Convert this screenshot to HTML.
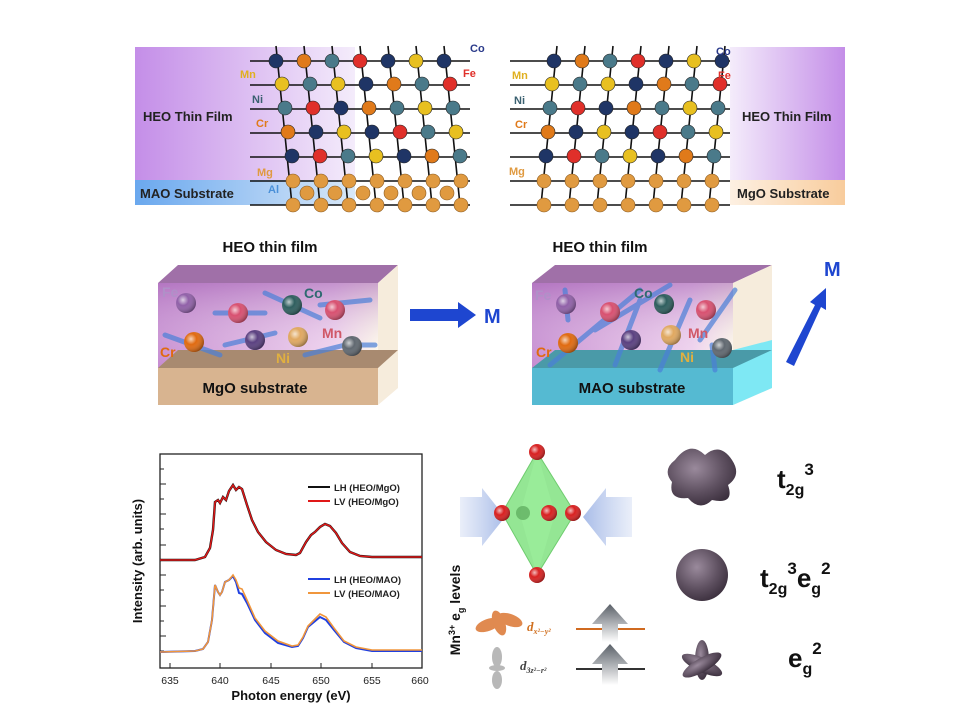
<!DOCTYPE html>
<html><head><meta charset="utf-8"><style>
html,body{margin:0;padding:0;background:#fff}
svg{display:block;font-family:"Liberation Sans",sans-serif}
</style></head><body>
<svg width="960" height="720" viewBox="0 0 960 720" xmlns="http://www.w3.org/2000/svg">
<defs>
<linearGradient id="pl" x1="0" x2="1"><stop offset="0" stop-color="#c48ee8"/><stop offset="1" stop-color="#f4ecfb"/></linearGradient>
<linearGradient id="pr" x1="1" x2="0"><stop offset="0" stop-color="#c48ee8"/><stop offset="1" stop-color="#f4ecfb"/></linearGradient>
<linearGradient id="bl" x1="0" x2="1"><stop offset="0" stop-color="#6aa8ee"/><stop offset="1" stop-color="#d8e8f8"/></linearGradient>
<linearGradient id="pk" x1="1" x2="0"><stop offset="0" stop-color="#f8cc9c"/><stop offset="1" stop-color="#fdf0e2"/></linearGradient>
<linearGradient id="film" x1="0" y1="0" x2="1" y2="0"><stop offset="0" stop-color="#c58ad0"/><stop offset="0.8" stop-color="#efd2ee"/><stop offset="1" stop-color="#fffbea"/></linearGradient>
<linearGradient id="filmv" x1="0" y1="0" x2="0" y2="1"><stop offset="0" stop-color="#a868b8" stop-opacity=".6"/><stop offset="1" stop-color="#fff" stop-opacity="0"/></linearGradient>
<radialGradient id="ball" cx=".35" cy=".35" r=".7"><stop offset="0" stop-color="#fff" stop-opacity=".7"/><stop offset=".4" stop-color="#fff" stop-opacity="0"/><stop offset="1" stop-color="#000" stop-opacity=".35"/></radialGradient>
<radialGradient id="orb" cx=".4" cy=".35" r=".7"><stop offset="0" stop-color="#9a8a9c"/><stop offset=".6" stop-color="#5e5060"/><stop offset="1" stop-color="#3a2e3c"/></radialGradient>
<linearGradient id="barr" x1="0" x2="1"><stop offset="0" stop-color="#b8c8ec" stop-opacity=".3"/><stop offset="1" stop-color="#a8bce8"/></linearGradient>
<linearGradient id="barl" x1="1" x2="0"><stop offset="0" stop-color="#b8c8ec" stop-opacity=".3"/><stop offset="1" stop-color="#a8bce8"/></linearGradient>
<linearGradient id="gup" x1="0" y1="1" x2="0" y2="0"><stop offset="0" stop-color="#fff"/><stop offset="1" stop-color="#5a6068"/></linearGradient>
</defs>

<!-- TOP LEFT -->
<rect x="135" y="47" width="220" height="135" fill="url(#pl)"/>
<rect x="135" y="180" width="220" height="25" fill="url(#bl)"/>
<text x="143" y="121" font-size="13" font-weight="bold" fill="#222">HEO Thin Film</text>
<text x="140" y="198" font-size="13" font-weight="bold" fill="#222">MAO Substrate</text>
<g stroke="#111" stroke-width="1.6">
<line x1="250" y1="61" x2="470" y2="61"/><line x1="250" y1="85" x2="470" y2="85"/><line x1="250" y1="109" x2="470" y2="109"/><line x1="250" y1="133" x2="470" y2="133"/><line x1="250" y1="157" x2="470" y2="157"/><line x1="250" y1="181" x2="470" y2="181"/><line x1="250" y1="205" x2="470" y2="205"/>
<line x1="276" y1="46" x2="292" y2="205"/><line x1="304" y1="46" x2="320" y2="205"/><line x1="332" y1="46" x2="348" y2="205"/><line x1="360" y1="46" x2="376" y2="205"/><line x1="388" y1="46" x2="404" y2="205"/><line x1="416" y1="46" x2="432" y2="205"/><line x1="444" y1="46" x2="460" y2="205"/>
</g>
<g stroke="#222" stroke-width=".6">
<circle cx="276" cy="61" r="7" fill="#1f3566"/><circle cx="304" cy="61" r="7" fill="#e07a1a"/><circle cx="332" cy="61" r="7" fill="#4a7a8a"/><circle cx="360" cy="61" r="7" fill="#e0302a"/><circle cx="388" cy="61" r="7" fill="#1f3566"/><circle cx="416" cy="61" r="7" fill="#e8c020"/><circle cx="444" cy="61" r="7" fill="#1f3566"/>
<circle cx="282" cy="84" r="7" fill="#e8c020"/><circle cx="310" cy="84" r="7" fill="#4a7a8a"/><circle cx="338" cy="84" r="7" fill="#e8c020"/><circle cx="366" cy="84" r="7" fill="#1f3566"/><circle cx="394" cy="84" r="7" fill="#e07a1a"/><circle cx="422" cy="84" r="7" fill="#4a7a8a"/><circle cx="450" cy="84" r="7" fill="#e0302a"/>
<circle cx="285" cy="108" r="7" fill="#4a7a8a"/><circle cx="313" cy="108" r="7" fill="#e0302a"/><circle cx="341" cy="108" r="7" fill="#1f3566"/><circle cx="369" cy="108" r="7" fill="#e07a1a"/><circle cx="397" cy="108" r="7" fill="#4a7a8a"/><circle cx="425" cy="108" r="7" fill="#e8c020"/><circle cx="453" cy="108" r="7" fill="#4a7a8a"/>
<circle cx="288" cy="132" r="7" fill="#e07a1a"/><circle cx="316" cy="132" r="7" fill="#1f3566"/><circle cx="344" cy="132" r="7" fill="#e8c020"/><circle cx="372" cy="132" r="7" fill="#1f3566"/><circle cx="400" cy="132" r="7" fill="#e0302a"/><circle cx="428" cy="132" r="7" fill="#4a7a8a"/><circle cx="456" cy="132" r="7" fill="#e8c020"/>
<circle cx="292" cy="156" r="7" fill="#1f3566"/><circle cx="320" cy="156" r="7" fill="#e0302a"/><circle cx="348" cy="156" r="7" fill="#4a7a8a"/><circle cx="376" cy="156" r="7" fill="#e8c020"/><circle cx="404" cy="156" r="7" fill="#1f3566"/><circle cx="432" cy="156" r="7" fill="#e07a1a"/><circle cx="460" cy="156" r="7" fill="#4a7a8a"/>
</g>
<g fill="#e09a40" stroke="#8a5a20" stroke-width=".6">
<circle cx="293" cy="181" r="7"/><circle cx="321" cy="181" r="7"/><circle cx="349" cy="181" r="7"/><circle cx="377" cy="181" r="7"/><circle cx="405" cy="181" r="7"/><circle cx="433" cy="181" r="7"/><circle cx="461" cy="181" r="7"/>
<circle cx="307" cy="193" r="7"/><circle cx="335" cy="193" r="7"/><circle cx="363" cy="193" r="7"/><circle cx="391" cy="193" r="7"/><circle cx="419" cy="193" r="7"/><circle cx="447" cy="193" r="7"/>
<circle cx="293" cy="205" r="7"/><circle cx="321" cy="205" r="7"/><circle cx="349" cy="205" r="7"/><circle cx="377" cy="205" r="7"/><circle cx="405" cy="205" r="7"/><circle cx="433" cy="205" r="7"/><circle cx="461" cy="205" r="7"/>
</g>
<g font-size="11" font-weight="bold">
<text x="470" y="52" fill="#2a3a8a">Co</text><text x="463" y="77" fill="#e0302a">Fe</text>
<text x="240" y="78" fill="#e0b020">Mn</text><text x="252" y="103" fill="#3a6070">Ni</text><text x="256" y="127" fill="#e07a1a">Cr</text>
<text x="257" y="176" fill="#e09a40">Mg</text><text x="268" y="193" fill="#4a90d8">Al</text>
</g>

<!-- TOP RIGHT -->
<rect x="730" y="47" width="115" height="135" fill="url(#pr)"/>
<rect x="730" y="180" width="115" height="25" fill="url(#pk)"/>
<text x="742" y="121" font-size="13" font-weight="bold" fill="#222">HEO Thin Film</text>
<text x="737" y="198" font-size="13" font-weight="bold" fill="#222">MgO Substrate</text>
<g stroke="#111" stroke-width="1.6">
<line x1="510" y1="61" x2="730" y2="61"/><line x1="510" y1="85" x2="730" y2="85"/><line x1="510" y1="109" x2="730" y2="109"/><line x1="510" y1="133" x2="730" y2="133"/><line x1="510" y1="157" x2="730" y2="157"/><line x1="510" y1="181" x2="730" y2="181"/><line x1="510" y1="205" x2="730" y2="205"/>
<line x1="557" y1="46" x2="541" y2="205"/><line x1="585" y1="46" x2="569" y2="205"/><line x1="613" y1="46" x2="597" y2="205"/><line x1="641" y1="46" x2="625" y2="205"/><line x1="669" y1="46" x2="653" y2="205"/><line x1="697" y1="46" x2="681" y2="205"/><line x1="725" y1="46" x2="709" y2="205"/>
</g>
<g stroke="#222" stroke-width=".6">
<circle cx="554" cy="61" r="7" fill="#1f3566"/><circle cx="582" cy="61" r="7" fill="#e07a1a"/><circle cx="610" cy="61" r="7" fill="#4a7a8a"/><circle cx="638" cy="61" r="7" fill="#e0302a"/><circle cx="666" cy="61" r="7" fill="#1f3566"/><circle cx="694" cy="61" r="7" fill="#e8c020"/><circle cx="722" cy="61" r="7" fill="#1f3566"/>
<circle cx="552" cy="84" r="7" fill="#e8c020"/><circle cx="580" cy="84" r="7" fill="#4a7a8a"/><circle cx="608" cy="84" r="7" fill="#e8c020"/><circle cx="636" cy="84" r="7" fill="#1f3566"/><circle cx="664" cy="84" r="7" fill="#e07a1a"/><circle cx="692" cy="84" r="7" fill="#4a7a8a"/><circle cx="720" cy="84" r="7" fill="#e0302a"/>
<circle cx="550" cy="108" r="7" fill="#4a7a8a"/><circle cx="578" cy="108" r="7" fill="#e0302a"/><circle cx="606" cy="108" r="7" fill="#1f3566"/><circle cx="634" cy="108" r="7" fill="#e07a1a"/><circle cx="662" cy="108" r="7" fill="#4a7a8a"/><circle cx="690" cy="108" r="7" fill="#e8c020"/><circle cx="718" cy="108" r="7" fill="#4a7a8a"/>
<circle cx="548" cy="132" r="7" fill="#e07a1a"/><circle cx="576" cy="132" r="7" fill="#1f3566"/><circle cx="604" cy="132" r="7" fill="#e8c020"/><circle cx="632" cy="132" r="7" fill="#1f3566"/><circle cx="660" cy="132" r="7" fill="#e0302a"/><circle cx="688" cy="132" r="7" fill="#4a7a8a"/><circle cx="716" cy="132" r="7" fill="#e8c020"/>
<circle cx="546" cy="156" r="7" fill="#1f3566"/><circle cx="574" cy="156" r="7" fill="#e0302a"/><circle cx="602" cy="156" r="7" fill="#4a7a8a"/><circle cx="630" cy="156" r="7" fill="#e8c020"/><circle cx="658" cy="156" r="7" fill="#1f3566"/><circle cx="686" cy="156" r="7" fill="#e07a1a"/><circle cx="714" cy="156" r="7" fill="#4a7a8a"/>
</g>
<g fill="#e09a40" stroke="#8a5a20" stroke-width=".6">
<circle cx="544" cy="181" r="7"/><circle cx="572" cy="181" r="7"/><circle cx="600" cy="181" r="7"/><circle cx="628" cy="181" r="7"/><circle cx="656" cy="181" r="7"/><circle cx="684" cy="181" r="7"/><circle cx="712" cy="181" r="7"/>
<circle cx="544" cy="205" r="7"/><circle cx="572" cy="205" r="7"/><circle cx="600" cy="205" r="7"/><circle cx="628" cy="205" r="7"/><circle cx="656" cy="205" r="7"/><circle cx="684" cy="205" r="7"/><circle cx="712" cy="205" r="7"/>
</g>
<g font-size="11" font-weight="bold">
<text x="716" y="55" fill="#2a3a8a">Co</text><text x="718" y="79" fill="#e0302a">Fe</text>
<text x="512" y="79" fill="#e0b020">Mn</text><text x="514" y="104" fill="#3a6070">Ni</text><text x="515" y="128" fill="#e07a1a">Cr</text>
<text x="509" y="175" fill="#e09a40">Mg</text>
</g>

<!-- MIDDLE LEFT BOX -->
<text x="270" y="252" font-size="15" font-weight="bold" text-anchor="middle" fill="#111">HEO thin film</text>
<polygon points="158,283 178,265 398,265 378,283" fill="#a070a8"/>
<polygon points="378,283 398,265 398,388 378,405" fill="#f6ecdc"/>
<rect x="158" y="283" width="220" height="85" fill="url(#film)"/>
<rect x="158" y="283" width="220" height="85" fill="url(#filmv)"/>
<polygon points="158,368 178,350 398,350 378,368" fill="#a88a70"/>
<rect x="158" y="368" width="220" height="37" fill="#d8b490"/>
<text x="255" y="393" font-size="15" font-weight="bold" text-anchor="middle" fill="#111">MgO substrate</text>
<g stroke="#4a80d8" stroke-width="5" opacity=".7" stroke-linecap="round">
<line x1="165" y1="335" x2="220" y2="355"/><line x1="215" y1="313" x2="265" y2="313"/><line x1="265" y1="293" x2="320" y2="318"/><line x1="225" y1="345" x2="275" y2="333"/><line x1="305" y1="355" x2="345" y2="345"/><line x1="345" y1="345" x2="375" y2="345"/><line x1="320" y1="305" x2="370" y2="300"/>
</g>
<g>
<circle cx="186" cy="303" r="10" fill="#9060a8"/><circle cx="238" cy="313" r="10" fill="#d85070"/><circle cx="292" cy="305" r="10" fill="#2e5e5e"/><circle cx="335" cy="310" r="10" fill="#d85070"/>
<circle cx="194" cy="342" r="10" fill="#e06a10"/><circle cx="255" cy="340" r="10" fill="#5a4080"/><circle cx="298" cy="337" r="10" fill="#e0a860"/><circle cx="352" cy="346" r="10" fill="#606870"/>
<circle cx="186" cy="303" r="10" fill="url(#ball)"/><circle cx="238" cy="313" r="10" fill="url(#ball)"/><circle cx="292" cy="305" r="10" fill="url(#ball)"/><circle cx="335" cy="310" r="10" fill="url(#ball)"/><circle cx="194" cy="342" r="10" fill="url(#ball)"/><circle cx="255" cy="340" r="10" fill="url(#ball)"/><circle cx="298" cy="337" r="10" fill="url(#ball)"/><circle cx="352" cy="346" r="10" fill="url(#ball)"/>
</g>
<g font-size="14" font-weight="bold">
<text x="162" y="297" fill="#b090c8">Fe</text><text x="304" y="298" fill="#2e6a70">Co</text><text x="322" y="338" fill="#d05868">Mn</text><text x="160" y="357" fill="#e06a10">Cr</text><text x="276" y="363" fill="#e0b040">Ni</text>
</g>
<polygon points="410,309 458,309 458,302 476,315 458,328 458,321 410,321" fill="#1e46d0"/>
<text x="484" y="323" font-size="20" font-weight="bold" fill="#1e46d0">M</text>

<!-- MIDDLE RIGHT BOX -->
<text x="600" y="252" font-size="15" font-weight="bold" text-anchor="middle" fill="#111">HEO thin film</text>
<polygon points="532,283 555,265 772,265 733,283" fill="#a070a8"/>
<polygon points="733,283 772,265 772,388 733,405" fill="#f6ecdc"/>
<polygon points="733,350 772,340 772,388 733,405" fill="#7ee8f4"/>
<rect x="532" y="283" width="201" height="85" fill="url(#film)"/>
<rect x="532" y="283" width="201" height="85" fill="url(#filmv)"/>
<polygon points="532,368 555,350 772,350 733,368" fill="#4a9aa8"/>
<rect x="532" y="368" width="201" height="37" fill="#55bad2"/>
<text x="632" y="393" font-size="15" font-weight="bold" text-anchor="middle" fill="#111">MAO substrate</text>
<g stroke="#4a80d8" stroke-width="5" opacity=".7" stroke-linecap="round">
<line x1="550" y1="365" x2="640" y2="290"/><line x1="595" y1="330" x2="670" y2="285"/><line x1="565" y1="290" x2="568" y2="320"/><line x1="615" y1="365" x2="640" y2="300"/><line x1="660" y1="370" x2="690" y2="300"/><line x1="715" y1="370" x2="712" y2="345"/><line x1="700" y1="340" x2="735" y2="290"/>
</g>
<g>
<circle cx="566" cy="304" r="10" fill="#9060a8"/><circle cx="610" cy="312" r="10" fill="#d85070"/><circle cx="664" cy="304" r="10" fill="#2e5e5e"/><circle cx="706" cy="310" r="10" fill="#d85070"/>
<circle cx="568" cy="343" r="10" fill="#e06a10"/><circle cx="631" cy="340" r="10" fill="#5a4080"/><circle cx="671" cy="335" r="10" fill="#e0a860"/><circle cx="722" cy="348" r="10" fill="#606870"/>
<circle cx="566" cy="304" r="10" fill="url(#ball)"/><circle cx="610" cy="312" r="10" fill="url(#ball)"/><circle cx="664" cy="304" r="10" fill="url(#ball)"/><circle cx="706" cy="310" r="10" fill="url(#ball)"/><circle cx="568" cy="343" r="10" fill="url(#ball)"/><circle cx="631" cy="340" r="10" fill="url(#ball)"/><circle cx="671" cy="335" r="10" fill="url(#ball)"/><circle cx="722" cy="348" r="10" fill="url(#ball)"/>
</g>
<g font-size="14" font-weight="bold">
<text x="535" y="300" fill="#b090c8">Fe</text><text x="634" y="298" fill="#2e6a70">Co</text><text x="688" y="338" fill="#d05868">Mn</text><text x="536" y="357" fill="#e06a10">Cr</text><text x="680" y="362" fill="#e0b040">Ni</text>
</g>
<polygon points="786,362 815,305 810,302 826,288 826,310 821,307 794,366" fill="#1e46d0"/>
<text x="824" y="276" font-size="20" font-weight="bold" fill="#1e46d0">M</text>

<!-- PLOT -->
<rect x="160" y="454" width="262" height="214" fill="none" stroke="#222" stroke-width="1.3"/>
<g stroke="#222" stroke-width="1">
<line x1="160" y1="469" x2="164" y2="469"/><line x1="160" y1="484" x2="166" y2="484"/><line x1="160" y1="499" x2="164" y2="499"/><line x1="160" y1="514" x2="166" y2="514"/><line x1="160" y1="529" x2="164" y2="529"/><line x1="160" y1="545" x2="166" y2="545"/><line x1="160" y1="560" x2="164" y2="560"/><line x1="160" y1="575" x2="166" y2="575"/><line x1="160" y1="590" x2="164" y2="590"/><line x1="160" y1="606" x2="166" y2="606"/><line x1="160" y1="621" x2="164" y2="621"/><line x1="160" y1="636" x2="166" y2="636"/><line x1="160" y1="651" x2="164" y2="651"/>
<line x1="170" y1="668" x2="170" y2="663"/><line x1="220" y1="668" x2="220" y2="663"/><line x1="271" y1="668" x2="271" y2="663"/><line x1="321" y1="668" x2="321" y2="663"/><line x1="372" y1="668" x2="372" y2="663"/><line x1="422" y1="668" x2="422" y2="663"/>
</g>
<g font-size="10.5" fill="#222" text-anchor="middle">
<text x="170" y="684">635</text><text x="220" y="684">640</text><text x="271" y="684">645</text><text x="321" y="684">650</text><text x="372" y="684">655</text><text x="420" y="684">660</text>
</g>
<text x="291" y="700" font-size="13" font-weight="bold" text-anchor="middle" fill="#111">Photon energy (eV)</text>
<text transform="translate(142,561) rotate(-90)" font-size="13" font-weight="bold" text-anchor="middle" fill="#111">Intensity (arb. units)</text>
<path d="M160,560 L195,560 L205,557 L210,548 L213,530 L215,502 L218,500 L220,503 L223,497 L226,500 L229,491 L233,485 L236,490 L239,487 L242,489 L247,505 L252,520 L258,532 L266,542 L276,550 L286,554 L296,555 L300,553 L306,542 L311,535 L315,532 L320,527 L325,524 L330,526 L336,533 L342,543 L350,552 L360,556 L372,557 L422,557" fill="none" stroke="#111" stroke-width="2.4"/>
<path d="M160,560 L195,560 L205,557 L210,548 L213,530 L215,502 L218,500 L220,503 L223,497 L226,500 L229,491 L233,485 L236,490 L239,487 L242,489 L247,505 L252,520 L258,532 L266,542 L276,550 L286,554 L296,555 L300,553 L306,542 L311,535 L315,532 L320,527 L325,524 L330,526 L336,533 L342,543 L350,552 L360,556 L372,557 L422,557" fill="none" stroke="#e01818" stroke-width="1.5"/>
<path d="M160,652 L195,651 L203,649 L208,642 L212,620 L215,585 L218,592 L220,595 L222,592 L225,582 L229,580 L233,576 L236,582 L239,593 L242,594 L247,603 L255,620 L265,633 L278,643 L292,647 L298,646 L303,638 L308,627 L314,622 L320,617 L326,620 L334,630 L344,642 L356,648 L372,651 L422,651" fill="none" stroke="#2040e0" stroke-width="2"/>
<path d="M160,652 L195,651 L203,649 L208,642 L212,620 L215,585 L218,592 L220,595 L222,592 L225,582 L229,580 L233,575 L236,580 L239,588 L242,589 L247,600 L255,618 L265,631 L278,641 L292,646 L298,645 L303,637 L308,626 L314,620 L320,614 L326,617 L334,628 L344,641 L356,647 L372,650 L422,650" fill="none" stroke="#f0963c" stroke-width="1.6"/>
<g font-size="9.5" font-weight="bold" fill="#222">
<line x1="308" y1="487" x2="330" y2="487" stroke="#111" stroke-width="2"/><text x="334" y="491">LH (HEO/MgO)</text>
<line x1="308" y1="501" x2="330" y2="501" stroke="#e01818" stroke-width="2"/><text x="334" y="505">LV (HEO/MgO)</text>
<line x1="308" y1="579" x2="330" y2="579" stroke="#2040e0" stroke-width="2"/><text x="334" y="583">LH (HEO/MAO)</text>
<line x1="308" y1="593" x2="330" y2="593" stroke="#f0963c" stroke-width="2"/><text x="334" y="597">LV (HEO/MAO)</text>
</g>

<!-- OCTAHEDRON -->
<polygon points="460,497 482,497 482,488 505,517 482,546 482,537 460,537" fill="url(#barr)"/>
<polygon points="632,497 606,497 606,488 583,517 606,546 606,537 632,537" fill="url(#barl)"/>
<polygon points="537,452 502,513 537,575 575,513" fill="#7ae07a" opacity=".8" stroke="#4cc04c"/>
<polygon points="537,452 520,514 537,575 555,514" fill="#9cf09c" opacity=".6"/>
<g fill="#d82020"><circle cx="537" cy="452" r="8"/><circle cx="502" cy="513" r="8"/><circle cx="549" cy="513" r="8"/><circle cx="573" cy="513" r="8"/><circle cx="537" cy="575" r="8"/></g>
<circle cx="523" cy="513" r="7" fill="#5aa85a" opacity=".7"/>
<g fill="url(#ball)"><circle cx="537" cy="452" r="8"/><circle cx="502" cy="513" r="8"/><circle cx="549" cy="513" r="8"/><circle cx="573" cy="513" r="8"/><circle cx="537" cy="575" r="8"/></g>

<!-- levels -->
<text transform="translate(460,610) rotate(-90)" font-size="14" font-weight="bold" text-anchor="middle" fill="#111">Mn<tspan dy="-5" font-size="9">3+</tspan><tspan dy="5"> e</tspan><tspan dy="4" font-size="9">g</tspan><tspan dy="-4"> levels</tspan></text>
<g fill="#e08a50"><ellipse cx="488" cy="625" rx="13" ry="6" transform="rotate(-20 488 625)"/><ellipse cx="510" cy="620" rx="13" ry="6" transform="rotate(20 510 620)"/><ellipse cx="499" cy="623" rx="6" ry="13" transform="rotate(-20 499 623)"/></g>
<g fill="#b8b8b8"><ellipse cx="497" cy="657" rx="5" ry="10"/><ellipse cx="497" cy="680" rx="5" ry="9"/><ellipse cx="497" cy="668" rx="8" ry="3"/></g>
<text x="527" y="631" font-size="13" font-style="italic" font-weight="bold" font-family="Liberation Serif,serif" fill="#d07020">d<tspan font-size="8" dy="3">x²−y²</tspan></text>
<text x="520" y="670" font-size="13" font-style="italic" font-weight="bold" font-family="Liberation Serif,serif" fill="#444">d<tspan font-size="8" dy="3">3z²−r²</tspan></text>
<line x1="576" y1="629" x2="645" y2="629" stroke="#d06a20" stroke-width="2"/>
<line x1="576" y1="669" x2="645" y2="669" stroke="#333" stroke-width="2"/>
<polygon points="610,604 592,624 602,624 602,642 618,642 618,624 628,624" fill="url(#gup)"/>
<polygon points="610,644 592,664 602,664 602,685 618,685 618,664 628,664" fill="url(#gup)"/>

<!-- orbitals -->
<path d="M675,460 Q690,440 705,455 Q720,442 732,460 Q742,475 728,485 Q735,505 712,500 Q700,512 688,498 Q668,500 672,482 Q662,470 675,460Z" fill="url(#orb)"/>
<circle cx="702" cy="575" r="26" fill="url(#orb)"/>
<g fill="url(#orb)">
<ellipse cx="702" cy="660" rx="7" ry="20"/><ellipse cx="702" cy="665" rx="22" ry="7" transform="rotate(25 702 665)"/><ellipse cx="702" cy="665" rx="22" ry="7" transform="rotate(-30 702 665)"/>
</g>
<g font-weight="bold" fill="#111" font-size="26">
<text x="777" y="488">t<tspan font-size="16" dy="7">2g</tspan><tspan font-size="17" dy="-20">3</tspan></text>
<text x="760" y="587">t<tspan font-size="16" dy="7">2g</tspan><tspan font-size="17" dy="-20">3</tspan><tspan dy="13">e</tspan><tspan font-size="16" dy="7">g</tspan><tspan font-size="17" dy="-20">2</tspan></text>
<text x="788" y="667">e<tspan font-size="16" dy="7">g</tspan><tspan font-size="17" dy="-20">2</tspan></text>
</g>
</svg>
</body></html>
